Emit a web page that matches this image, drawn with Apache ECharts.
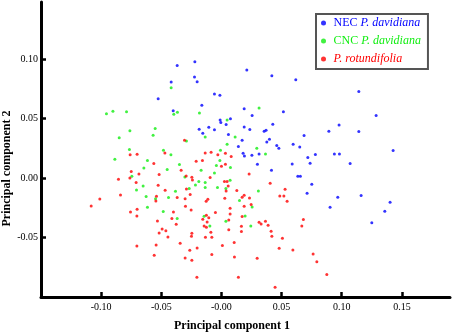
<!DOCTYPE html>
<html>
<head>
<meta charset="utf-8">
<script src="https://cdn.jsdelivr.net/npm/echarts@6/dist/echarts.min.js"></script>
<style>
  html, body { margin: 0; padding: 0; background: #fff; }
  #chart { width: 454px; height: 333px; }
</style>
</head>
<body>
<div id="chart"></div>
<script>
const seriesNames = ['NEC P. davidiana', 'CNC P. davidiana', 'P. rotundifolia'];
const seriesColors = ['#0000ff', '#11ee11', '#ff0000'];
const xTicks = [-0.1, -0.05, 0, 0.05, 0.1, 0.15];
const yTicks = [-0.05, 0, 0.05, 0.1];

const necData = [
  [-0.0526, 0.0666], [-0.0221, 0.0978], [-0.0368, 0.0947], [-0.0224, 0.0849], [-0.0202, 0.0809],
  [-0.0418, 0.0807], [-0.0058, 0.0706], [-0.0013, 0.0697], [-0.0163, 0.0613], [0.0189, 0.0582],
  [-0.0401, 0.0565], [-0.0011, 0.0487], [0.0075, 0.0498], [-0.0005, 0.0467], [0.0039, 0.0450],
  [0.0189, 0.0430], [-0.0105, 0.0428], [-0.0185, 0.0411], [-0.0058, 0.0405], [-0.0155, 0.0377],
  [0.0058, 0.0366], [0.0172, 0.0318], [0.0141, 0.0265], [0.0180, 0.0209], [0.0191, 0.0186],
  [0.0211, 0.0908], [0.0419, 0.0860], [0.0618, 0.0826], [0.0255, 0.0526], [0.0515, 0.0557],
  [0.0427, 0.0453], [0.0236, 0.0408], [0.0355, 0.0394], [0.0371, 0.0402], [0.0687, 0.0358],
  [0.0399, 0.0327], [0.0377, 0.0304], [0.0460, 0.0274], [0.0477, 0.0251], [0.0596, 0.0285],
  [0.0651, 0.0262], [0.0313, 0.0203], [0.0253, 0.0192], [0.0718, 0.0173], [0.0781, 0.0198],
  [0.0588, 0.0119], [0.0737, 0.0125], [0.0299, 0.0116], [0.0416, 0.0066], [0.1142, 0.0728],
  [0.1286, 0.0526], [0.0978, 0.0447], [0.0893, 0.0394], [0.1142, 0.0392], [0.1427, 0.0232],
  [0.0939, 0.0203], [0.0981, 0.0203], [0.1070, 0.0122], [0.0635, 0.0015], [0.0656, 0.0015],
  [0.0751, -0.0052], [0.0712, -0.0128], [0.0967, -0.0162], [0.1161, -0.0147], [0.1402, -0.0204],
  [0.0903, -0.0246], [0.1358, -0.0280], [0.1250, -0.0375]
];

const cncData = [
  [-0.0956, 0.0540], [-0.0902, 0.0562], [-0.0789, 0.0557], [-0.0551, 0.0417], [-0.0761, 0.0397],
  [-0.0568, 0.0360], [-0.0850, 0.0338], [-0.0765, 0.0240], [-0.0482, 0.0234], [-0.0886, 0.0158],
  [-0.0615, 0.0147], [-0.0645, 0.0085], [-0.0418, 0.0759], [-0.0366, 0.0554], [-0.0396, 0.0537],
  [-0.0183, 0.0546], [0.0047, 0.0487], [-0.0135, 0.0346], [0.0114, 0.0346], [-0.0291, 0.0312],
  [0.0047, 0.0285], [-0.0008, 0.0234], [-0.0420, 0.0195], [-0.0013, 0.0147], [-0.0349, 0.0114],
  [-0.0042, 0.0105], [0.0075, 0.0088], [-0.0451, 0.0072], [-0.0169, 0.0066], [-0.0058, 0.0043],
  [0.0313, 0.0588], [0.0294, 0.0251], [0.0366, 0.0203], [-0.0745, 0.0015], [-0.0651, -0.0067],
  [-0.0706, -0.0100], [-0.0626, -0.0156], [-0.0548, -0.0173], [-0.0615, -0.0246], [-0.0484, -0.0282],
  [-0.0304, 0.0009], [-0.0188, -0.0029], [-0.0135, -0.0038], [0.0072, -0.0019], [-0.0216, -0.0058],
  [-0.0135, -0.0080], [-0.0033, -0.0080], [0.0037, -0.0088], [-0.0382, -0.0111], [-0.0268, -0.0088],
  [-0.0440, -0.0164], [0.0150, -0.0189], [-0.0144, -0.0322], [-0.0368, -0.0341], [0.0037, -0.0364],
  [-0.0096, -0.0403], [0.0307, -0.0109], [0.0255, -0.0243], [0.0197, -0.0319], [0.0244, -0.0403]
];

const rotData = [
  [-0.0470, 0.0211], [-0.0759, 0.0195], [-0.0701, 0.0200], [-0.0562, 0.0122], [-0.0750, 0.0055],
  [-0.0686, 0.0035], [-0.0518, 0.0029], [-0.0307, 0.0318], [-0.0135, 0.0211], [-0.0086, 0.0217],
  [0.0033, 0.0209], [-0.0030, 0.0195], [0.0081, 0.0181], [-0.0210, 0.0141], [-0.0158, 0.0147],
  [0.0033, 0.0116], [0.0000, 0.0099], [-0.0335, 0.0066], [0.0230, 0.0035], [-0.0856, -0.0010],
  [-0.0761, 0.0001], [-0.0709, -0.0038], [-0.0526, -0.0061], [-0.0468, -0.0103], [-0.1011, -0.0176],
  [-0.0839, -0.0142], [-0.0540, -0.0153], [-0.0545, -0.0193], [-0.1083, -0.0235], [-0.0701, -0.0263],
  [-0.0756, -0.0285], [-0.0703, -0.0319], [-0.0532, -0.0361], [-0.0493, -0.0429], [-0.0518, -0.0462],
  [-0.0703, -0.0572], [-0.0543, -0.0563], [-0.0559, -0.0650], [-0.0293, 0.0018], [-0.0246, 0.0007],
  [-0.0241, -0.0016], [-0.0094, 0.0004], [0.0025, -0.0029], [0.0047, -0.0029], [0.0056, -0.0067],
  [0.0039, -0.0109], [0.0128, -0.0105], [-0.0291, -0.0092], [-0.0260, -0.0139], [-0.0368, -0.0164],
  [-0.0302, -0.0173], [-0.0113, -0.0179], [-0.0127, -0.0195], [0.0028, -0.0170], [0.0172, -0.0162],
  [0.0189, -0.0145], [-0.0299, -0.0237], [-0.0252, -0.0269], [0.0072, -0.0254], [0.0189, -0.0237],
  [-0.0399, -0.0285], [-0.0050, -0.0290], [0.0072, -0.0302], [-0.0125, -0.0313], [-0.0105, -0.0333],
  [0.0172, -0.0324], [-0.0412, -0.0341], [-0.0155, -0.0347], [0.0061, -0.0353], [-0.0119, -0.0370],
  [-0.0376, -0.0389], [-0.0144, -0.0403], [-0.0125, -0.0414], [0.0166, -0.0406], [-0.0462, -0.0442],
  [0.0061, -0.0434], [-0.0088, -0.0456], [0.0166, -0.0450], [-0.0246, -0.0465], [-0.0249, -0.0490],
  [-0.0445, -0.0496], [-0.0133, -0.0498], [-0.0080, -0.0498], [-0.0343, -0.0549], [0.0106, -0.0541],
  [-0.0202, -0.0589], [0.0008, -0.0566], [-0.0263, -0.0608], [-0.0080, -0.0642], [-0.0302, -0.0673],
  [0.0108, -0.0664], [-0.0246, -0.0692], [-0.0204, -0.0833], [0.0141, -0.0833], [0.0405, -0.0044],
  [0.0529, -0.0094], [0.0485, -0.0151], [0.0519, -0.0151], [0.0546, -0.0195], [0.0233, -0.0168],
  [0.0247, -0.0223], [0.0681, -0.0349], [0.0313, -0.0372], [0.0330, -0.0386], [0.0366, -0.0364],
  [0.0388, -0.0397], [0.0668, -0.0403], [0.0413, -0.0448], [0.0419, -0.0490], [0.0507, -0.0507],
  [0.0480, -0.0591], [0.0594, -0.0605], [0.0762, -0.0639], [0.0297, -0.0675], [0.0793, -0.0703],
  [0.0446, -0.0919], [0.0876, -0.0810]
];

const serif = '"Liberation Serif", "DejaVu Serif", serif';

const chart = echarts.init(document.getElementById('chart'));

const legendRich = {
  nb: { color: seriesColors[0], fontFamily: serif, fontSize: 12, lineHeight: 14 },
  ib: { color: seriesColors[0], fontFamily: serif, fontSize: 12, lineHeight: 14, fontStyle: 'italic' },
  ng: { color: seriesColors[1], fontFamily: serif, fontSize: 12, lineHeight: 14 },
  ig: { color: seriesColors[1], fontFamily: serif, fontSize: 12, lineHeight: 14, fontStyle: 'italic' },
  ir: { color: seriesColors[2], fontFamily: serif, fontSize: 12, lineHeight: 14, fontStyle: 'italic' }
};

const option = {
  backgroundColor: '#fff',
  animation: false,
  grid: { left: 41, right: 4, top: 2, bottom: 36, outerBoundsMode: 'none', containLabel: false },
  legend: {
    orient: 'vertical',
    left: 316,
    top: 14,
    padding: [3, 7, 4, 5],
    itemGap: 6,
    itemWidth: 10,
    itemHeight: 5,
    icon: 'circle',
    borderColor: '#555',
    borderWidth: 2,
    backgroundColor: '#fff',
    data: seriesNames,
    textStyle: { rich: legendRich },
    formatter: function (name) {
      if (name === seriesNames[0]) return '{nb|NEC }{ib|P. davidiana}';
      if (name === seriesNames[1]) return '{ng|CNC }{ig|P. davidiana}';
      return '{ir|P. rotundifolia}';
    }
  },
  xAxis: {
    type: 'value',
    min: -0.15,
    max: 0.19,
    interval: 0.05,
    name: 'Principal component 1',
    nameLocation: 'middle',
    nameGap: 23,
    nameMoveOverlap: false,
    nameTextStyle: {
      fontFamily: serif, fontSize: 12, fontWeight: 'bold', color: '#000',
      padding: [0, 27, 0, 0]
    },
    axisLine: { onZero: false, lineStyle: { color: '#000', width: 3 } },
    axisTick: { inside: true, length: 5, lineStyle: { width: 2.5, color: '#000' }, customValues: xTicks },
    axisLabel: {
      customValues: xTicks,
      margin: 5,
      fontFamily: serif, fontSize: 10, color: '#000',
      formatter: function (v) { return v === 0 ? '-0.00' : v.toFixed(2); }
    },
    splitLine: { show: false }
  },
  yAxis: {
    type: 'value',
    min: -0.1,
    max: 0.148,
    interval: 0.05,
    name: 'Principal component 2',
    nameLocation: 'middle',
    nameGap: 28,
    nameMoveOverlap: false,
    nameTextStyle: {
      fontFamily: serif, fontSize: 12, fontWeight: 'bold', color: '#000',
      padding: [0, 38, 0, 0]
    },
    axisLine: { onZero: false, lineStyle: { color: '#000', width: 3 } },
    axisTick: { inside: true, length: 5, lineStyle: { width: 2.5, color: '#000' }, customValues: yTicks },
    axisLabel: {
      customValues: yTicks,
      margin: 3,
      fontFamily: serif, fontSize: 10, color: '#000',
      formatter: function (v) { return v.toFixed(2); }
    },
    splitLine: { show: false }
  },
  series: [
    { name: seriesNames[0], type: 'scatter', data: necData, symbolSize: 3, itemStyle: { color: seriesColors[0] } },
    { name: seriesNames[1], type: 'scatter', data: cncData, symbolSize: 3, itemStyle: { color: seriesColors[1] } },
    { name: seriesNames[2], type: 'scatter', data: rotData, symbolSize: 3, itemStyle: { color: seriesColors[2] } }
  ]
};

chart.setOption(option);
</script>
</body>
</html>
